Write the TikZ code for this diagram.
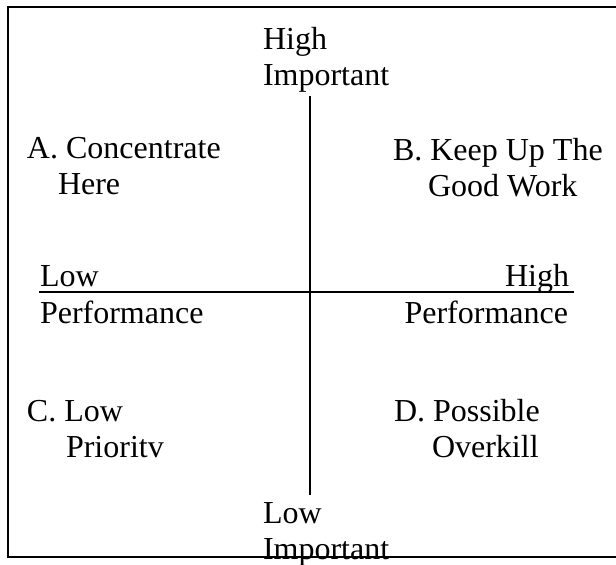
\documentclass[tikz,border=0pt]{standalone}
\usepackage{fontspec}
\setmainfont{Liberation Serif}
\begin{document}
\begin{tikzpicture}[x=1pt,y=-1pt,
  lbl/.style={inner sep=0pt,outer sep=0pt,font=\fontsize{32}{36.8}\selectfont,text=black},
  lw/.style={lbl,anchor=base west},
  le/.style={lbl,anchor=base east},
  axis/.style={line width=1.5pt,draw=black},
  frame/.style={line width=1.6pt,draw=black}]
\useasboundingbox (0,0) rectangle (616,565);
% frame (right side runs past the picture's edge)
\draw[frame] (622,7) -- (8,7) -- (8,557) -- (622,557);
% axes
\coordinate (vtop) at (310,96);
\coordinate (vbot) at (310,495);
\coordinate (hl) at (39,292);
\coordinate (hr) at (574,292);
\draw[axis] (vtop) -- (vbot);
\draw[axis] (hl) -- (hr);
% axis labels
\node[lw] (hiA) at (263,49) {High};
\node[lw] (hiB) at (263,85) {Important};
\node[lw] (loA) at (263,523) {Low};
\node[lw] (loB) at (263,559) {Important};
\node[lw] (lpA) at (40,286) {Low};
\node[lw] (lpB) at (40,323) {Performance};
\node[le] (hpA) at (569,286) {High};
\node[le] (hpB) at (568,323) {Performance};
% quadrant labels
\node[lw] (qa1) at (27,158) {A. Concentrate};
\node[lw] (qa2) at (58,194) {Here};
\node[lw] (qb1) at (393,160) {B. Keep Up The};
\node[lw] (qb2) at (428,196) {Good Work};
\node[lw] (qc1) at (27,421) {C. Low};
\node[lw] (qc2) at (66,457) {Prioritv};
\node[lw] (qd1) at (394,421) {D. Possible};
\node[lw] (qd2) at (432,457) {Overkill};
\end{tikzpicture}
\end{document}
